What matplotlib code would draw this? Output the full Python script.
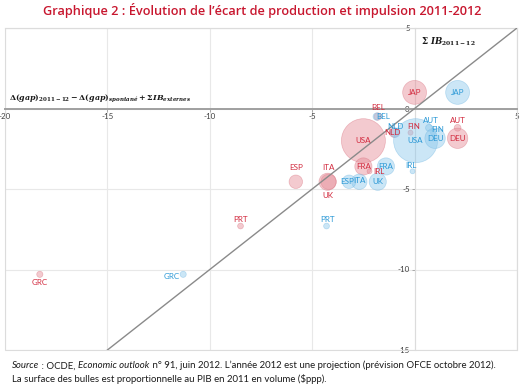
import matplotlib
matplotlib.use("Agg")
import matplotlib.pyplot as plt
from matplotlib.patches import Rectangle

plt.rcParams['axes.unicode_minus'] = False
plt.rcParams['font.family'] = ['Lato', 'DejaVu Sans']
plt.rcParams['mathtext.fontset'] = 'custom'
plt.rcParams['mathtext.rm'] = 'DejaVu Serif:bold'
plt.rcParams['mathtext.it'] = 'DejaVu Serif:italic:bold'
plt.rcParams['mathtext.bf'] = 'DejaVu Serif:bold'

# ---- data ----
countries = ['JAP', 'BEL', 'FIN', 'NLD', 'USA', 'AUT', 'DEU', 'FRA', 'IRL',
             'ITA', 'UK', 'ESP', 'PRT', 'GRC']
# x values: red series and blue series
x_red = [0.0, -1.8, -0.2, -1.0, -2.5, 2.1, 2.1, -2.5, -2.2,
         -4.2, -4.25, -5.8, -8.5, -18.3]
x_blue = [2.1, -1.85, 0.9, -0.95, 0.05, 0.7, 1.0, -1.4, -0.1,
          -2.7, -1.8, -3.2, -4.3, -11.3]
# y values (Sum IB 2011-12), shared by both series
y_ib = [1.0, -0.5, -1.5, -1.5, -2.0, -1.2, -1.85, -3.6, -3.9,
        -4.55, -4.55, -4.55, -7.3, -10.3]
# GDP 2011 in volume ($ppp bn) -> bubble area
gdp = [4440, 420, 199, 705, 15094, 356, 3221, 2303, 192,
       1847, 2287, 1413, 260, 294]

x_ticks = [-20, -15, -10, -5, 0, 5]
x_ticklabels = ['-20', '-15', '-10', '-5', '', '5']
y_ticks = [5, 0, -5, -10, -15]
y_ticklabels = ['5', '0', '-5', '-10', '-15']

# label offsets in points (style)
off_red = {'JAP': (0, 0), 'BEL': (0, 6.5), 'FIN': (2, 4.5), 'NLD': (-1, 0),
           'USA': (0, 0), 'AUT': (0, 5), 'DEU': (0, 0), 'FRA': (0, 0),
           'IRL': (6.5, -0.5), 'ITA': (0, 10), 'UK': (0, -10), 'ESP': (0, 10),
           'PRT': (0, 5), 'GRC': (0, -6)}
off_blue = {'JAP': (0, 0), 'BEL': (4.5, 0), 'FIN': (3, 2), 'NLD': (0, 4.5),
            'USA': (0, 0), 'AUT': (1.5, 5), 'DEU': (0, 0), 'FRA': (0, 0),
            'IRL': (-1.5, 4.5), 'ITA': (0, 1), 'UK': (0, 0), 'ESP': (-1, 0),
            'PRT': (0.5, 5), 'GRC': (-8, -1.5)}

RED_TXT = '#d22a3e'
BLUE_TXT = '#2a98d6'

fig = plt.figure(figsize=(5.2, 3.86), dpi=100)
ax = fig.add_axes([5/520, 1 - 350/386, 512/520, 322/386])
ax.set_xlim(-20, 5)
ax.set_ylim(-15, 5)

k = 1004.0 / 15094.0
sizes = [g * k for g in gdp]

ax.scatter(x_red, y_ib, s=sizes, facecolor='#e58a96', alpha=0.45,
           edgecolor='#d9707e', linewidth=0.5, zorder=3)
ax.scatter(x_blue, y_ib, s=sizes, facecolor='#8cc8ec', alpha=0.45,
           edgecolor='#6fb6e2', linewidth=0.5, zorder=3)

for i, c in enumerate(countries):
    ax.annotate(c, (x_red[i], y_ib[i]), xytext=off_red[c],
                textcoords='offset points', ha='center', va='center',
                fontsize=5.8, color=RED_TXT, zorder=5)
    ax.annotate(c, (x_blue[i], y_ib[i]), xytext=off_blue[c],
                textcoords='offset points', ha='center', va='center',
                fontsize=5.8, color=BLUE_TXT, zorder=5)

# 45 degree line
ax.plot([-15, 5], [-15, 5], color='#8a8a8a', lw=1.0, zorder=4)

# axes styling
ax.spines['left'].set_position(('data', 0))
ax.spines['bottom'].set_position(('data', 0))
ax.spines['left'].set_color('#dcdcdc')
ax.spines['left'].set_linewidth(0.8)
ax.spines['bottom'].set_color('#a0a0a0')
ax.spines['bottom'].set_linewidth(1.4)
ax.spines['bottom'].set_zorder(2.5)
for s in ['top', 'right']:
    ax.spines[s].set_color('#dcdcdc')
    ax.spines[s].set_linewidth(0.8)
ax.add_patch(Rectangle((0, 0), 1, 1, transform=ax.transAxes, fill=False,
                       edgecolor='#dcdcdc', lw=0.8, clip_on=False, zorder=1))

ax.set_xticks(x_ticks)
ax.set_xticklabels(x_ticklabels)
ax.set_yticks(y_ticks)
ax.set_yticklabels(y_ticklabels)
ax.tick_params(axis='both', labelsize=5.8, labelcolor='#404040', color='#909090',
               length=2, width=0.5, pad=1.5)
ax.grid(True, color='#e8e8e8', lw=0.8)
ax.set_axisbelow(True)

# axis titles
ax.text(0.3, 4.15, r'$\Sigma\ IB_{2011-12}$', fontsize=6.2, color='#1a1a1a',
        ha='left', va='center')
ax.text(-19.8, 0.3, r'$\Delta(gap)_{2011-12} - \Delta(gap)_{spontané} + \Sigma IB_{externes}$',
        fontsize=5.7, color='#1a1a1a', ha='left', va='bottom')

# title
fig.text(0.505, 1 - 10/386, "Graphique 2 : Évolution de l’écart de production et impulsion 2011-2012",
         ha='center', va='center', fontsize=9.2, color='#c8172f',
         family=['Open Sans', 'DejaVu Sans'], weight='semibold')

# source
fs = 6.9
t1 = fig.text(12/520, 1 - 366/386, "Source", style='italic', fontsize=fs,
              color='#1a1a1a', va='center', ha='left')
t2 = ax.annotate(" : OCDE, ", xy=(1, 0), xycoords=t1, va='bottom', ha='left',
                 fontsize=fs, color='#1a1a1a', annotation_clip=False)
t3 = ax.annotate("Economic outlook", xy=(1, 0), xycoords=t2, va='bottom', ha='left',
                 fontsize=fs, style='italic', color='#1a1a1a', annotation_clip=False)
t4 = ax.annotate(" n° 91, juin 2012. L’année 2012 est une projection (prévision OFCE octobre 2012).",
                 xy=(1, 0), xycoords=t3, va='bottom', ha='left',
                 fontsize=fs, color='#1a1a1a', annotation_clip=False)
fig.text(12/520, 1 - 379/386, "La surface des bulles est proportionnelle au PIB en 2011 en volume (\\$ppp).",
         fontsize=fs, color='#1a1a1a', va='center', ha='left')

fig.savefig('out.png', dpi=100)
